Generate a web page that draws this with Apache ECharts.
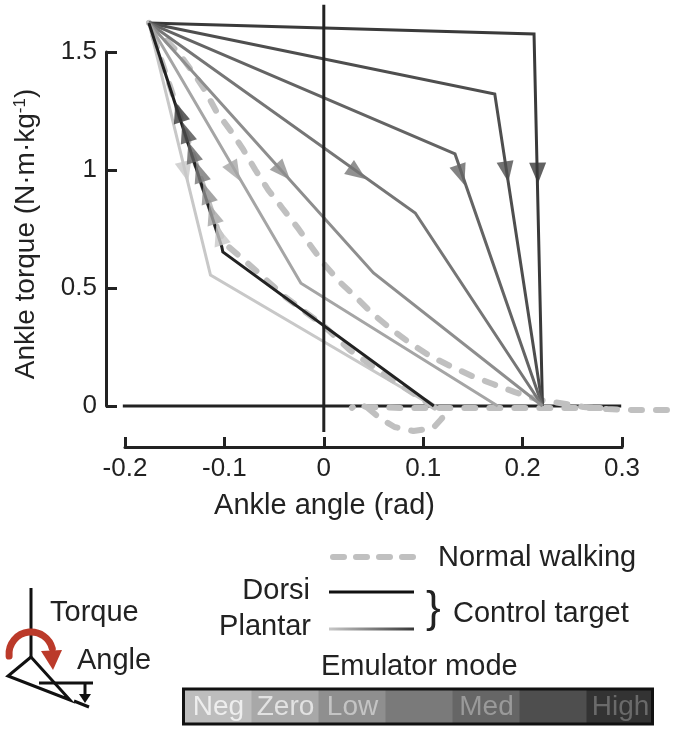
<!DOCTYPE html>
<html><head><meta charset="utf-8">
<style>html,body{margin:0;padding:0;background:#fff}#c{width:685px;height:735px}</style>
<script src="https://cdn.jsdelivr.net/npm/echarts@6/dist/echarts.min.js"></script>
</head><body><div id="c"></div>
<script>
const xTicks = ['-0.2','-0.1','0','0.1','0.2','0.3'];
const yTicks = ['0','0.5','1','1.5'];
const start = [-0.176, 1.623];
const end = [0.22, 0];
const plantar1 = [start, [0.2115, 1.576], end];
const plantar2 = [start, [0.172, 1.322], end];
const plantar3 = [start, [0.132, 1.068], end];
const plantar4 = [start, [0.092, 0.818], end];
const plantar5 = [start, [0.05, 0.564], end];
const plantar6 = [start, [-0.023, 0.52], [0.175, 0]];
const plantar7 = [start, [-0.114, 0.555], [0.11, 0]];
const dorsi = [start, [-0.1026, 0.674], [-0.1016, 0.653], [0.1107, 0]];
const zeroH = [[-0.2024, 0], [0.299, 0]];
const zeroV = [[0, -0.11], [0, 1.70]];
const walkUpper = [start,[-0.147,1.5],[-0.13,1.403],[-0.12,1.339],[-0.108,1.246],[-0.093,1.161],[-0.081,1.085],[-0.069,1.0],[-0.056,0.915],[-0.042,0.839],[-0.027,0.758],[-0.014,0.682],[0.001,0.597],[0.016,0.525],[0.033,0.458],[0.048,0.394],[0.066,0.331],[0.085,0.271],[0.105,0.216],[0.127,0.169],[0.149,0.127],[0.17,0.093],[0.192,0.059],[0.217,0.025],[0.237,0.013],[0.261,-0.004],[0.285,-0.013],[0.311,-0.017],[0.358,-0.017]];
const walkBase = [[0.278,-0.008],[0.177,-0.008],[0.076,-0.008],[0.042,-0.004],[0.034,0.013],[0.028,-0.008]];
const walkLoop = [[0.044,-0.008],[0.056,-0.051],[0.071,-0.089],[0.09,-0.106],[0.11,-0.093],[0.119,-0.051],[0.118,-0.025],[0.097,0.034],[0.061,0.131],[0.026,0.237],[0,0.339],[-0.039,0.462],[-0.077,0.606],[-0.098,0.682],[-0.107,0.746],start];
const plantarColors = ['#3a3a3a','#4e4e4e','#646464','#767676','#8e8e8e','#a5a5a5','#c8c8c8'];
const plantarArrowX = [0.2153,0.184,0.138,0.034,-0.041,-0.0895,-0.139];
const plantarArrowY = [0.987,0.992,0.979,0.987,0.992,0.992,0.992];
const plantarArrowRot = [181,189,199,234.5,222,210,194];
const dorsiArrowX = [-0.146,-0.139,-0.133,-0.125,-0.118,-0.112,-0.105];
const dorsiArrowY = [1.246,1.161,1.076,0.992,0.903,0.814,0.725];
const modeColors = ['#bdbdbd','#a8a8a8','#8f8f8f','#7a7a7a','#666666','#4e4e4e','#333333'];
const modeLabels = ['Neg','Zero','Low','','Med','','High'];
const modeLabelColors = ['#eeeeee','#e2e2e2','#c4c4c4','','#9a9a9a','','#6a6a6a'];

const FONT = '"Liberation Sans", Arial, sans-serif';
const INK = '#222';
const lineS = (data, color, width, extra) => Object.assign({
  type:'line', data, symbol:'none', clip:false, silent:true,
  lineStyle:{color, width, cap:'butt', join:'miter'}, z:3
}, extra||{});
const WIDE = {xAxisIndex:1, yAxisIndex:1};
const DASH = Object.assign({lineStyle:{color:'#c0c0c0', width:6, type:[11,14], cap:'round', join:'round'}, z:2}, WIDE);
const plantars = [plantar1,plantar2,plantar3,plantar4,plantar5,plantar6,plantar7];

const series = [
  lineS(plantar7, plantarColors[6], 3, {z:1}),
  lineS(zeroH, INK, 3, Object.assign({z:1}, WIDE)),
  lineS(walkUpper, '#c0c0c0', 6, DASH),
  lineS(walkBase, '#c0c0c0', 6, DASH),
  lineS(walkLoop, '#c0c0c0', 6, DASH),
  lineS(zeroV, INK, 3, {z:4})
];
plantars.slice(0,6).forEach((d,i)=>series.push(lineS(d, plantarColors[i], 3)));
series.push(lineS(dorsi, INK, 3));
series.push({type:'scatter', symbol:'triangle', symbolSize:[17,21], clip:false, silent:true, z:6,
  data: plantarArrowX.map((x,i)=>({value:[x,plantarArrowY[i]], symbolRotate:plantarArrowRot[i], itemStyle:{color:plantarColors[i]}}))});
series.push({type:'scatter', symbol:'triangle', symbolSize:[17,21], clip:false, silent:true, z:7,
  data: dorsiArrowX.map((x,i)=>({value:[x,dorsiArrowY[i]], symbolRotate:18, itemStyle:{color:plantarColors[i]}}))});

const txt = (text,x,y,opt) => ({type:'text', x, y, z:10, silent:true, style:Object.assign({text, fill:INK, font:'29px '+FONT, textVerticalAlign:'middle', verticalAlign:'middle'},opt||{})});
const seg = (x1,y1,x2,y2,w,col) => ({type:'line', silent:true, shape:{x1,y1,x2,y2}, style:{stroke:col||'#111', lineWidth:w||3}});
const g = [];
g.push(txt('Normal walking',438,558));
g.push(txt('Control target',453,614));
g.push(txt('Dorsi',310,591,{textAlign:'right', align:'right'}));
g.push(txt('Plantar',311,627,{textAlign:'right', align:'right'}));
g.push(txt('Emulator mode',321,667));
g.push(txt('Torque',50,613));
g.push(txt('Angle',77,661));
g.push(txt('}',426,610,{font:'44px '+FONT}));
g.push({type:'line', silent:true, shape:{x1:333,y1:557,x2:417,y2:557}, style:{stroke:'#c0c0c0', lineWidth:6, lineDash:[11,12], lineCap:'round'}});
g.push(seg(329,592,414,592,3,'#111'));
g.push({type:'line', silent:true, shape:{x1:329,y1:629,x2:414,y2:629}, style:{lineWidth:3, stroke:new echarts.graphic.LinearGradient(0,0,1,0,[{offset:0,color:'#cccccc'},{offset:1,color:'#333333'}],false)}});
// emulator-mode strip
const bx=185, bw=67;
modeColors.forEach((c,i)=>{
  g.push({type:'rect', silent:true, shape:{x:bx+i*bw-(i?0.5:0), y:690, width:bw+0.5, height:33}, style:{fill:c}});
  if(modeLabels[i]) g.push(txt(modeLabels[i], bx+i*bw+33.5, 707, {font:'28px '+FONT, fill:modeLabelColors[i], textAlign:'center', align:'center'}));
});
g.push({type:'rect', silent:true, z:9, shape:{x:183.5,y:689,width:469,height:35}, style:{fill:'none', stroke:'#111', lineWidth:3}});
// ankle icon
g.push(seg(31,588,31,657));
g.push({type:'polygon', silent:true, shape:{points:[[31,657],[8,676],[70,700]]}, style:{fill:'none', stroke:'#111', lineWidth:3}});
g.push(seg(39,683,93,683));
g.push(seg(74,701,89,707));
g.push(seg(85,683,85,696));
g.push({type:'polygon', silent:true, shape:{points:[[79,694],[91,694],[85,703]]}, style:{fill:'#111'}});
g.push({type:'arc', silent:true, z:5, shape:{cx:31,cy:654,r:22,startAngle:Math.PI*0.97,endAngle:Math.PI*1.92,clockwise:true}, style:{fill:'none', stroke:'#bb3a2a', lineWidth:7, lineCap:'round'}});
g.push({type:'polygon', silent:true, z:5, shape:{points:[[41,651],[62,650],[53,670]]}, style:{fill:'#bb3a2a'}});

const chart = echarts.init(document.getElementById('c'), null, {renderer:'canvas'});
chart.setOption({
  animation:false, backgroundColor:'#fff',
  grid:[{left:125, top:52, width:497, height:354, containLabel:false},
        {left:115.26, top:52, width:566.58, height:354, containLabel:false}],
  xAxis:[{type:'value', min:-0.2, max:0.3, interval:0.1, position:'bottom', offset:41,
    axisLine:{show:true, onZero:false, lineStyle:{color:INK,width:3}},
    axisTick:{show:true, inside:true, length:10, lineStyle:{color:INK,width:3}},
    axisLabel:{fontFamily:FONT, fontSize:26, color:INK, margin:9, formatter:(v)=>xTicks[Math.round((v+0.2)*10)], hideOverlap:false},
    splitLine:{show:false},
    name:'Ankle angle (rad)', nameLocation:'middle', nameGap:44,
    nameTextStyle:{fontFamily:FONT, fontSize:29, color:INK, padding:[0,98,0,0]}},
    {type:'value', gridIndex:1, min:-0.21, max:0.36, show:false, splitLine:{show:false}}],
  yAxis:[{type:'value', min:0, max:1.5, interval:0.5, position:'left', offset:19,
    axisLine:{show:true, onZero:false, lineStyle:{color:INK,width:3}},
    axisTick:{show:true, inside:true, length:11, lineStyle:{color:INK,width:3}},
    axisLabel:{fontFamily:FONT, fontSize:26, color:INK, margin:9, padding:[6,0,0,0], formatter:(v)=>yTicks[Math.round(v*2)]},
    splitLine:{show:false},
    name:'{n|Ankle torque (N·m·kg}{s|-1}{n|)}', nameLocation:'middle', nameGap:66,
    nameTextStyle:{fontFamily:FONT, fontSize:28, color:INK, padding:[0,10,0,0],
      rich:{n:{fontFamily:FONT,fontSize:28,color:INK}, s:{fontFamily:FONT,fontSize:17,color:INK,verticalAlign:'top'}}}},
    {type:'value', gridIndex:1, min:0, max:1.5, show:false, splitLine:{show:false}}],
  series, graphic:g
});
</script></body></html>
